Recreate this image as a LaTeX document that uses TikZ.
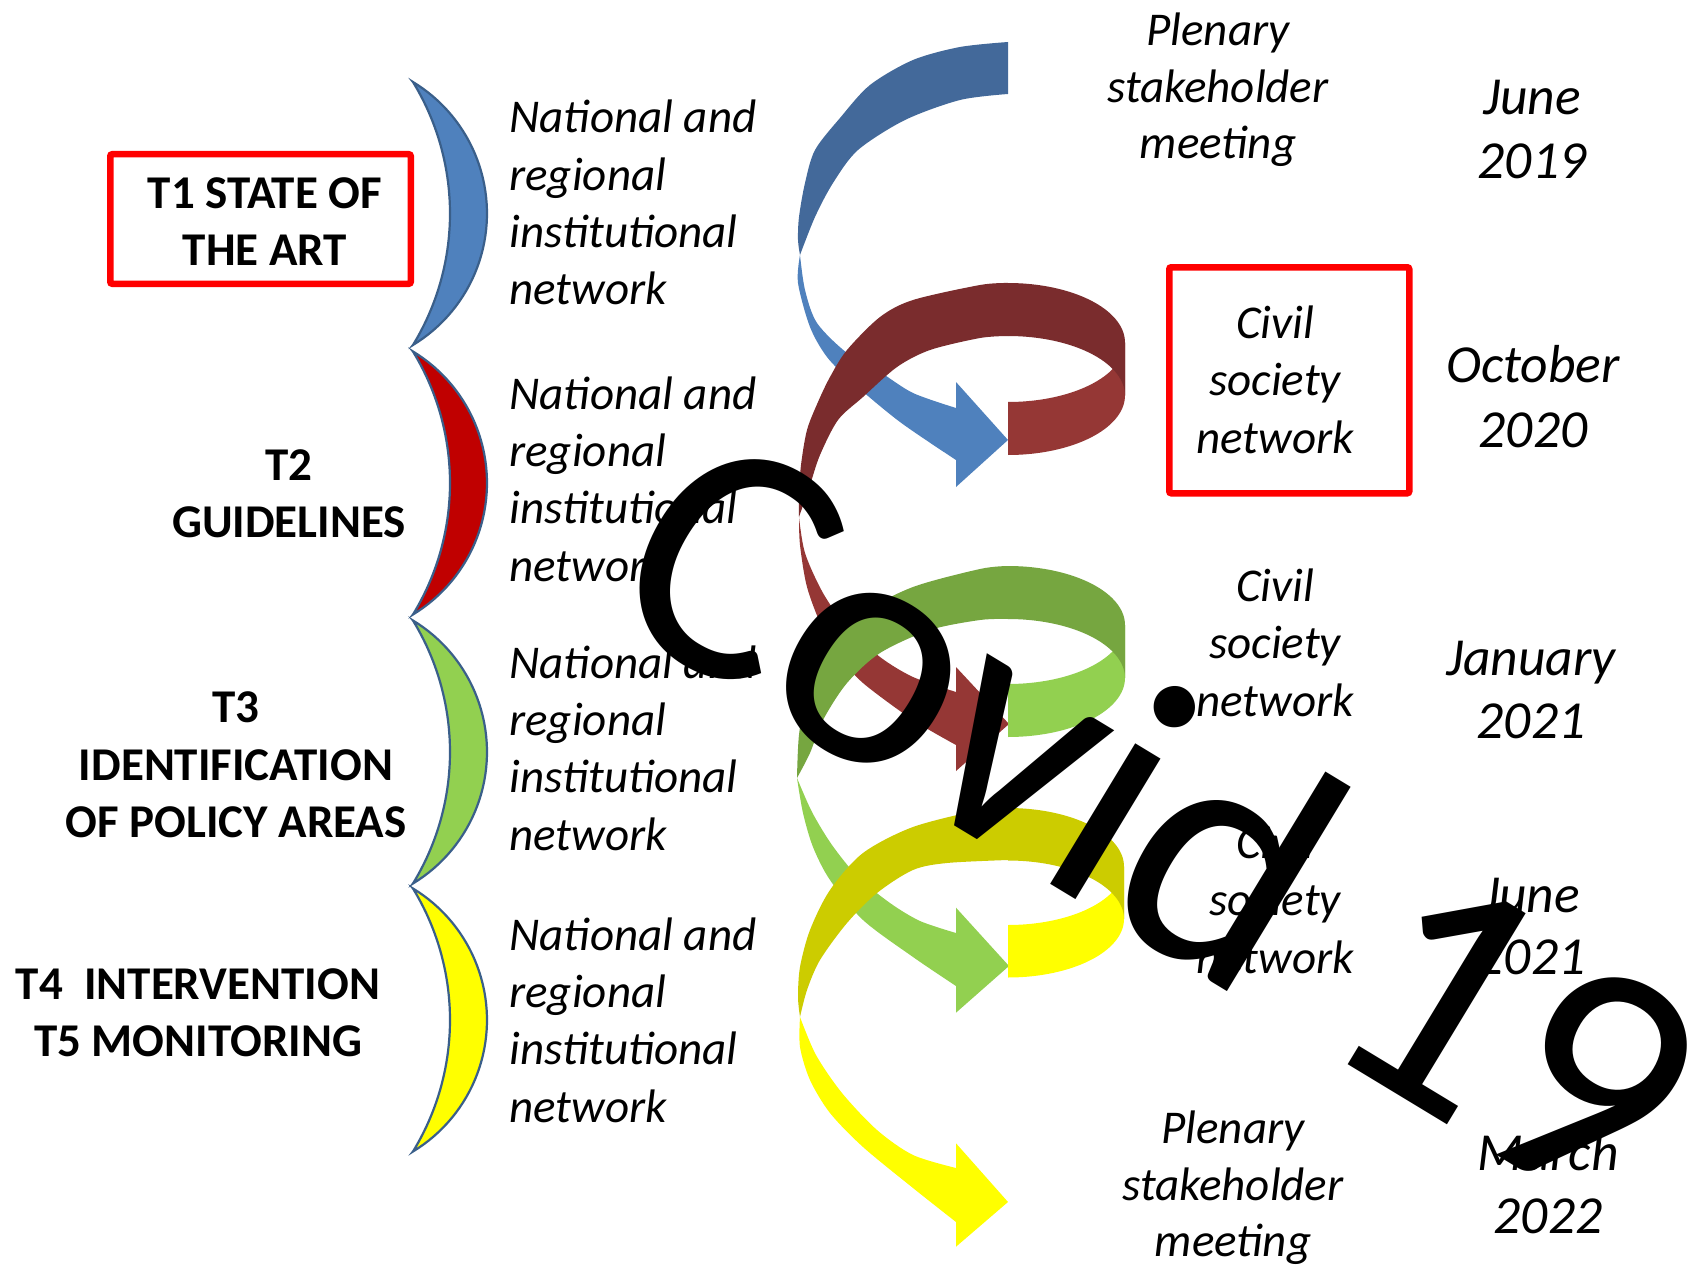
\documentclass[tikz,border=0pt]{standalone}
\usepackage{fontspec}
\setmainfont{Carlito}
\newfontfamily\covidfont[LetterSpace=-1.0]{Carlito}
\definecolor{blueL}{HTML}{4F81BD}
\definecolor{blueD}{HTML}{43699A}
\definecolor{redL}{HTML}{953735}
\definecolor{redD}{HTML}{7A2C2D}
\definecolor{greenL}{HTML}{92D050}
\definecolor{greenD}{HTML}{76A640}
\definecolor{yellowL}{HTML}{FFFF00}
\definecolor{yellowD}{HTML}{CCCC00}
\definecolor{moonC}{HTML}{C00000}
\definecolor{moonEdge}{HTML}{3A5F8A}
\newcommand\ribbonring[6]{%
  \fill[#5] plot[domain=90:0,samples=40] ({1008+#2*cos(\x)},{#1+#3*sin(\x)}) -- plot[domain=0:90,samples=40] ({1008+#2*cos(\x)},{#1+#4+#3*sin(\x)}) -- cycle;
  \fill[#6] plot[domain=270:360,samples=40] ({1008+#2*cos(\x)},{#1+#3*sin(\x)}) -- plot[domain=360:270,samples=40] ({1008+#2*cos(\x)},{#1+#4+#3*sin(\x)}) -- cycle;
}
\newcommand\crescentshape[2]{%
  \filldraw[moonline, fill=#2] plot[domain=-58.75:58.75,samples=50] ({333.2+153.8*cos(\x)},{#1+153.8*sin(\x)}) -- plot[domain=31.4:-31.4,samples=50] ({197.8+252.2*cos(\x)},{#1+252.2*sin(\x)}) -- cycle;
}
\begin{document}
\begin{tikzpicture}[x=0.5pt,y=-0.5pt,
  moonline/.style={draw=moonEdge, line width=1.1pt, line join=miter},
  lbl/.style={font=\fontsize{23.5}{28}\selectfont\bfseries, inner sep=0, anchor=base},
  itx/.style={font=\fontsize{23.5}{28}\selectfont\itshape, inner sep=0, anchor=base west},
  itc/.style={font=\fontsize{23.5}{28}\selectfont\itshape, inner sep=0, anchor=base},
  dte/.style={font=\fontsize{26.75}{32}\selectfont\itshape, inner sep=0, anchor=base},
  redbox/.style={draw=red, line width=3.25pt, rounded corners=1pt},
  covid/.style={font={\covidfont\fontsize{172}{200}\selectfont}, inner sep=0, text=black}]
\useasboundingbox[fill=white] (0,0) rectangle (1699,1268);

% ---- crescents
\crescentshape{213.5}{blueL}
\crescentshape{483}{moonC}
\crescentshape{752}{greenL}
\crescentshape{1020}{yellowL}

% ---- blue spiral arrow
\fill[blueD] plot[smooth] coordinates {(1008,42) (960,47) (913,60) (870,85) (840,118) (815,150) (805,183) (799,217) (798,240) (800,255)}
  -- plot[smooth] coordinates {(800,255) (815,217) (833,183) (858,150) (905,120) (960,100) (1008,94)} -- cycle;
\fill[blueL] plot[smooth] coordinates {(800,255) (798,283) (810,327) (827,357) (853,383) (900,422) (956,460)}
  -- (956,487) -- (1008,440) -- (956,382)
  -- plot[smooth] coordinates {(956,408) (913,393) (880,372) (847,353) (817,323) (805,290) (800,255)} -- cycle;

% ---- red spiral arrow
\fill[redD] plot[smooth] coordinates {(1008,283) (980,285) (913,300) (880,317) (847,350) (830,377) (818,402) (807,430) (801,465) (799,495) (799,517)}
  -- plot[smooth] coordinates {(799,517) (810,485) (820,455) (838,420) (863,397) (897,367) (930,350) (980,338) (1008,336)} -- cycle;
\fill[redL] plot[smooth] coordinates {(799,517) (800,545) (807,587) (822,627) (840,657) (863,683) (913,720) (956,745)}
  -- (956,771) -- (1009,724) -- (956,667)
  -- plot[smooth] coordinates {(956,692) (913,677) (880,657) (847,627) (823,593) (805,553) (799,517)} -- cycle;
\ribbonring{342.5}{117}{59.5}{53}{redL}{redD}

% ---- green spiral arrow
\fill[greenD] plot[smooth] coordinates {(1008,566) (980,569) (913,587) (863,613) (830,647) (807,693) (799,735) (797,778)}
  -- plot[smooth] coordinates {(797,778) (810,753) (823,720) (847,683) (880,653) (930,630) (980,620) (1008,619)} -- cycle;
\fill[greenL] plot[smooth] coordinates {(797,778) (803,813) (813,847) (830,880) (863,920) (913,957) (956,986)}
  -- (956,1012.7) -- (1009,966) -- (956,907.7)
  -- plot[smooth] coordinates {(956,933) (920,921) (890,903) (858,877) (832,845) (812,812) (797,778)} -- cycle;
\ribbonring{625}{117}{59}{53}{greenL}{greenD}

% ---- yellow spiral arrow
\fill[yellowD] plot[smooth] coordinates {(1008,808) (980,810) (913,827) (863,853) (830,890) (810,930) (800,967) (798,997) (800,1017)}
  -- plot[smooth] coordinates {(800,1017) (807,990) (820,960) (847,923) (877,893) (913,870) (947,863) (1008,860)} -- cycle;
\fill[yellowL] plot[smooth] coordinates {(800,1017) (800,1047) (810,1080) (830,1113) (863,1147) (913,1188) (956,1222)}
  -- (956,1246.7) -- (1008,1202) -- (956,1143.3)
  -- plot[smooth] coordinates {(956,1168) (913,1155) (877,1130) (842,1093) (816,1055) (800,1017)} -- cycle;
\ribbonring{866.5}{116}{58.5}{52.5}{yellowL}{yellowD}

% ---- left task labels
\draw[redbox] (110.25,154.25) rectangle (410.75,283.75);
\node[lbl] (t1a) at (265,208) {T1 STATE OF};
\node[lbl] (t1b) at (265,265) {THE ART};
\node[lbl] (t2a) at (289,480) {T2};
\node[lbl] (t2b) at (289,537) {GUIDELINES};
\node[lbl] (t3a) at (236,722) {T3};
\node[lbl] (t3b) at (236,780) {IDENTIFICATION};
\node[lbl] (t3c) at (236,837) {OF POLICY AREAS};
\node[lbl] (t4a) at (198,999) {T4~~INTERVENTION};
\node[lbl] (t4b) at (198,1056) {T5 MONITORING};

% ---- network texts
\foreach \g/\y in {1/133, 2/409.5, 3/678.5, 4/950.5}{
  \node[itx] (n\g a) at (509,\y) {National and};
  \node[itx] (n\g b) at (509,\y+57.2) {regional};
  \node[itx] (n\g c) at (509,\y+114.4) {institutional};
  \node[itx] (n\g d) at (509,\y+171.6) {network};
}

% ---- right column
\node[itc] (p1a) at (1218,46) {Plenary};
\node[itc] (p1b) at (1218,102.5) {stakeholder};
\node[itc] (p1c) at (1218,159) {meeting};
\draw[redbox] (1169.25,267.25) rectangle (1409.25,493.25);
\foreach \k/\y in {1/338, 2/601, 3/858}{
  \node[itc] (c\k a) at (1275,\y) {Civil};
  \node[itc] (c\k b) at (1275,\y+57.5) {society};
  \node[itc] (c\k c) at (1275,\y+115) {network};
}
\node[itc] (p2a) at (1233,1143) {Plenary};
\node[itc] (p2b) at (1233,1200) {stakeholder};
\node[itc] (p2c) at (1233,1256) {meeting};

\node[dte] (d1a) at (1532,115) {June};
\node[dte] (d1b) at (1532,179) {2019};
\node[dte] (d2a) at (1533,382) {October};
\node[dte] (d2b) at (1533,447) {2020};
\node[dte] (d3a) at (1531,675.5) {January};
\node[dte] (d3b) at (1531,738) {2021};
\node[dte] (d4a) at (1531,912) {June};
\node[dte] (d4b) at (1531,974) {2021};
\node[dte] (d5a) at (1548,1170) {March};
\node[dte] (d5b) at (1548,1233) {2022};

% ---- overlay
\node[covid, rotate=-31.2, anchor=base west] (covid) at (594,608) {Covid 19};
\end{tikzpicture}
\end{document}
